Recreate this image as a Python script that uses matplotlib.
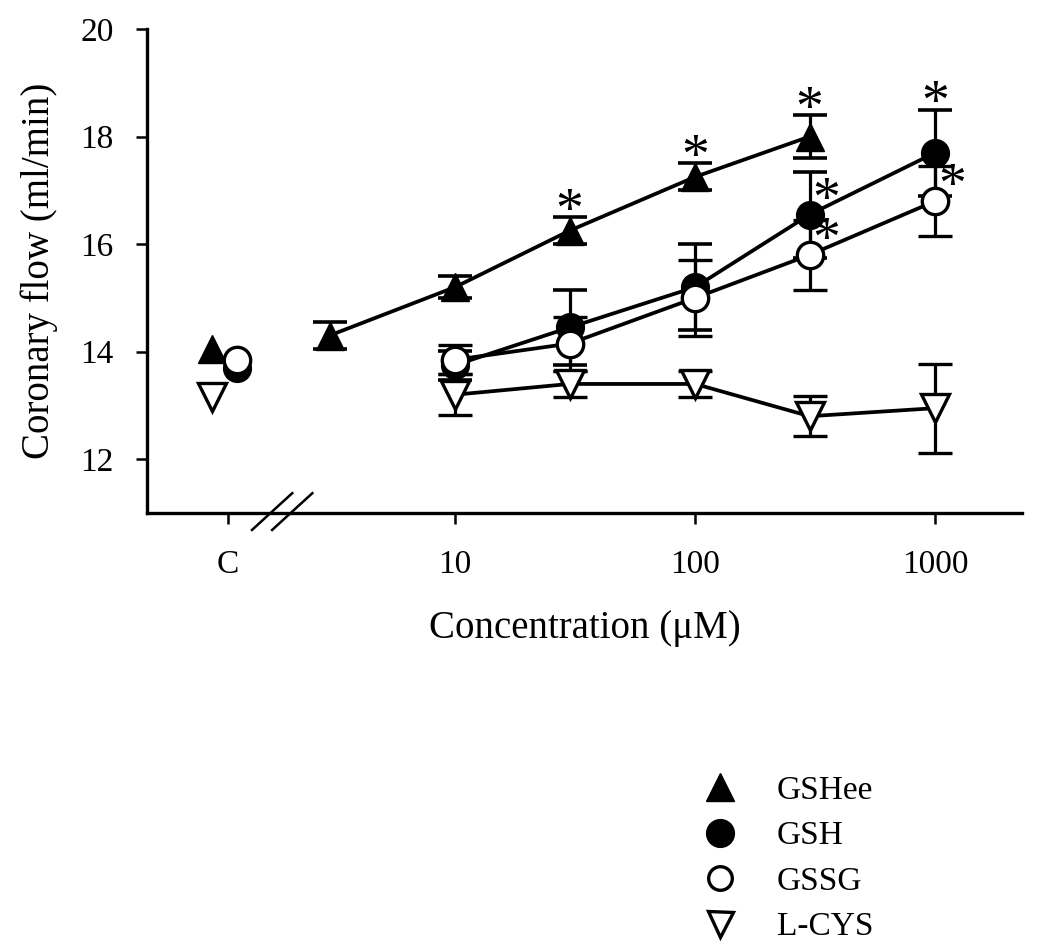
import matplotlib
matplotlib.use('Agg')
import matplotlib.pyplot as plt
from matplotlib.lines import Line2D

plt.rcParams['font.family'] = ['Liberation Serif', 'DejaVu Serif']

# Data (coronary flow, ml/min; mean +/- SEM)
gshee_conc = [3, 10, 30, 100, 300]
gshee_mean = [14.3, 15.2, 16.25, 17.25, 18.0]
gshee_err = [0.25, 0.2, 0.25, 0.25, 0.4]
gshee_ctrl = 14.05

conc = [10, 30, 100, 300, 1000]
gsh_mean = [13.75, 14.45, 15.2, 16.55, 17.7]
gsh_err = [0.27, 0.7, 0.8, 0.8, 0.8]
gsh_ctrl = 13.7

gssg_mean = [13.85, 14.15, 15.0, 15.8, 16.8]
gssg_err = [0.27, 0.5, 0.7, 0.65, 0.65]
gssg_ctrl = 13.85

lcys_mean = [13.2, 13.4, 13.4, 12.8, 12.95]
lcys_err = [0.38, 0.25, 0.25, 0.37, 0.83]
lcys_ctrl = 13.15

x_ticks = ['C', '10', '100', '1000']

# significant points (* above cap / * to upper right of marker)
stars_top = {'GSHee': [30, 100, 300], 'GSH': [1000]}
stars_side = {'GSH': [300], 'GSSG': [300, 1000]}

# position of the control group on the log axis
C_POS = 1.13
C_TRI = 0.97
C_CIRC = 1.24

fig = plt.figure(figsize=(10.38, 9.42), dpi=100)
ax = fig.add_axes([0.1416, 0.4554, 0.8430, 0.5138])

ebkw = dict(color='black', lw=2.7, elinewidth=2.3, capsize=12, capthick=2.6)

series = {
    'GSHee': (gshee_conc, gshee_mean, gshee_err, gshee_ctrl, C_TRI,
              dict(marker='^', ms=20, mfc='black', mec='black')),
    'GSH': (conc, gsh_mean, gsh_err, gsh_ctrl, C_CIRC,
            dict(marker='o', ms=20, mfc='black', mec='black')),
    'GSSG': (conc, gssg_mean, gssg_err, gssg_ctrl, C_CIRC,
             dict(marker='o', ms=19, mfc='white', mec='black', mew=2.4)),
    'L-CYS': (conc, lcys_mean, lcys_err, lcys_ctrl, C_TRI,
              dict(marker='v', ms=20, mfc='white', mec='black', mew=2.4)),
}

z = 3
for name, (xs, ys, es, ctrl, cx, mk) in series.items():
    ax.errorbar(xs, ys, yerr=es, zorder=z, **mk, **ebkw)
    ax.plot([cx], [ctrl], ls='none', zorder=z, **mk)
    z += 1

for name, xs_sig in stars_top.items():
    xs, ys, es = series[name][:3]
    for xv in xs_sig:
        i = xs.index(xv)
        ax.annotate('*', xy=(xv, ys[i] + es[i]), xytext=(0, -7),
                    textcoords='offset points', ha='center', va='baseline',
                    fontsize=40, zorder=10)
for name, xs_sig in stars_side.items():
    xs, ys, es = series[name][:3]
    for xv in xs_sig:
        i = xs.index(xv)
        ax.annotate('*', xy=(xv, ys[i]), xytext=(12, -1),
                    textcoords='offset points', ha='center', va='baseline',
                    fontsize=40, zorder=10)

ax.set_xscale('log')
ax.set_xlim(0.521, 2300)
ax.set_ylim(11, 20)
ax.set_xticks([C_POS, 10, 100, 1000])
ax.set_xticklabels(x_ticks)
ax.minorticks_off()
ax.set_yticks([12, 14, 16, 18, 20])

for s in ['top', 'right']:
    ax.spines[s].set_visible(False)
for s in ['left', 'bottom']:
    ax.spines[s].set_linewidth(2.4)
ax.tick_params(direction='out', length=8, width=1.8, labelsize=24)
ax.tick_params(axis='x', pad=18)
ax.tick_params(axis='y', pad=16)

ax.set_xlabel('Concentration (\u03bcM)', fontsize=28, labelpad=22)
ax.set_ylabel('Coronary flow (ml/min)', fontsize=28, labelpad=16)

# axis break marks
for dx in [0, 0.023]:
    ax.plot([0.12 + dx, 0.166 + dx], [-0.035, 0.041], color='black', lw=1.8,
            transform=ax.transAxes, clip_on=False)

handles = [
    Line2D([], [], ls='none', marker='^', ms=20, mfc='black', mec='black'),
    Line2D([], [], ls='none', marker='o', ms=20, mfc='black', mec='black'),
    Line2D([], [], ls='none', marker='o', ms=17, mfc='white', mec='black', mew=2.4),
    Line2D([], [], ls='none', marker='v', ms=18, mfc='white', mec='black', mew=2.4),
]
fig.legend(handles, ['GSHee', 'GSH', 'GSSG', 'L-CYS'], loc='upper left',
           bbox_to_anchor=(0.649, 0.191), frameon=False, fontsize=24,
           handletextpad=0.7, labelspacing=0.45, borderaxespad=0)

fig.savefig('out.png', dpi=100)
